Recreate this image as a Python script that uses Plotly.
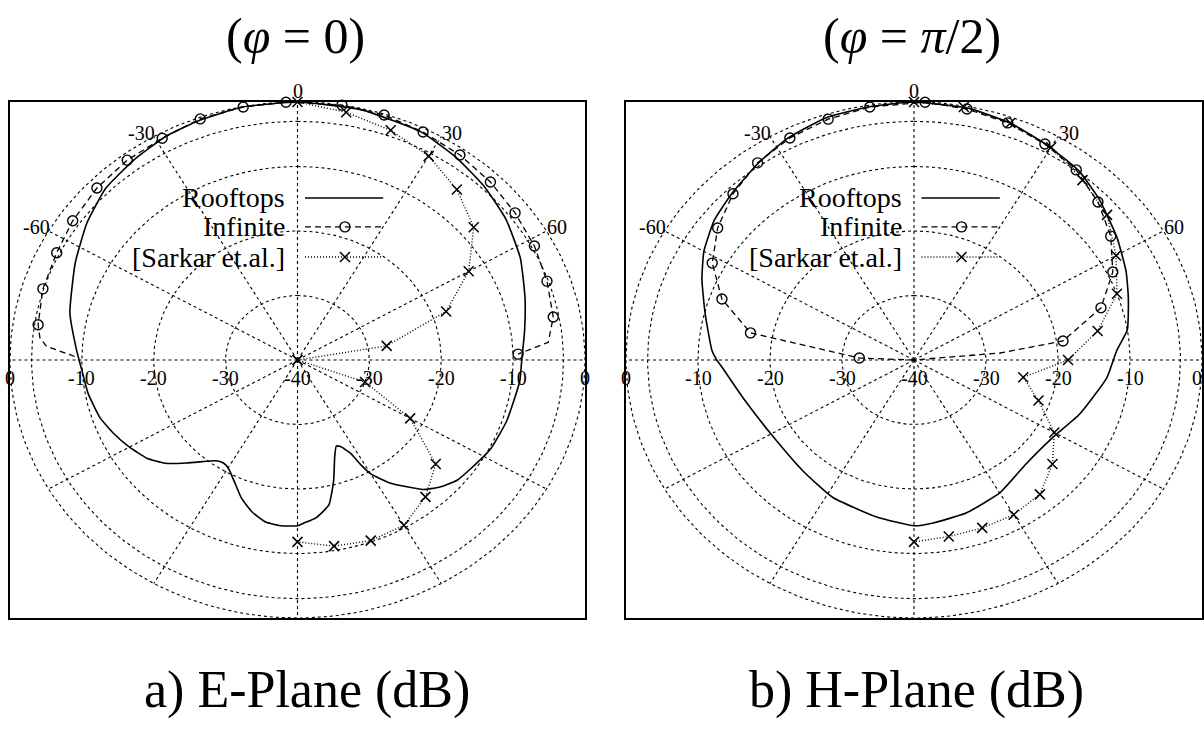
import numpy as np
import plotly.graph_objects as go

# ---------------------------------------------------------------
# Radiation patterns (angle in degrees from broadside, level in dB)
# ---------------------------------------------------------------

# a) E-plane, phi = 0
e_roof_theta = [-180, -175, -170, -165, -160, -155, -150, -147, -144, -141, -136, -131,
                -126, -120, -114, -108, -100, -93, -87, -77, -64, -54, -45, -36, -28,
                -20, -11, 0, 13, 26, 35, 44, 53, 63, 73, 82, 90, 96, 108, 117, 125,
                130, 135, 139, 142, 146, 150, 151.5, 153, 156, 158, 161, 165, 169,
                174, 178, 180]
e_roof_db = [-14.3, -14.2, -14.5, -15.6, -17.2, -19.2, -20.7, -21.0, -20.7, -19.8, -17.8,
             -15.6, -14.1, -13.0, -12.0, -11.1, -10.4, -9.95, -9.2, -7.5, -5.6, -3.8,
             -2.3, -1.5, -0.8, -0.4, -0.05, 0.0, -0.2, -0.7, -1.6, -2.6, -3.7, -5.2,
             -6.9, -8.1, -8.8, -8.9, -9.4, -9.8, -10.6, -11.0, -12.1, -13.4, -15.0,
             -17.0, -19.6, -21.5, -23.8, -25.3, -25.6, -24.1, -20.6, -17.1, -15.4,
             -14.7, -14.3]

e_inf_theta = [-81.4, -72.7, -63.6, -55.4, -46.3, -37.4, -28.7, -19.9, -10.9, -2.3,
               8.9, 17.6, 26.3, 35.4, 44.2, 53.0, 61.8, 70.6, 79.4, 88.3]
e_inf_db = [-3.5, -2.9, -2.6, -2.0, -1.4, -1.0, -0.8, -0.25, -0.05, 0.0,
            0.0, -0.15, -0.57, -1.0, -1.5, -2.1, -2.6, -3.2, -3.8, -9.3]
e_inf_end_theta = [-89.0, -86.5, -84.5, 85.5]
e_inf_end_db = [-9.0, -5.0, -4.0, -5.0]

e_sar_theta = [0, 10, 20, 30, 40, 50, 60, 70, 80, 90, 100, 110, 120, 130, 140, 150,
               160, 170, 180]
e_sar_db = [0.0, -1.0, -2.1, -3.5, -5.5, -8.0, -12.5, -18.0, -27.4, -40.0, -40.0,
            -30.0, -21.9, -14.9, -12.3, -10.4, -10.2, -10.7, -11.8]

# b) H-plane, phi = pi/2
h_roof_theta = [-180, -168, -152, -138, -121, -105, -92, -90, -87, -76, -67, -60, -52,
                -44, -35, -27, -18, -9, 0, 11, 20, 29, 38, 46, 56, 65, 72, 81, 87, 96,
                110, 122, 136, 150, 163, 174, 180]
h_roof_db = [-14.3, -15.1, -15.9, -16.9, -17.1, -15.7, -13.2, -12.6, -11.9, -10.1, -8.0,
             -6.3, -4.8, -3.8, -2.55, -1.4, -0.5, -0.25, 0.0, -0.24, -0.9, -1.9, -2.8,
             -4.2, -6.0, -7.5, -8.7, -10.0, -11.8, -13.1, -15.5, -17.3, -17.6, -16.2,
             -15.2, -14.6, -14.3]

h_inf_theta = [-87.7, -79.5, -70.5, -61.8, -53.1, -44.3, -35.4, -26.6, -17.7, -8.9,
               2.2, 10.7, 19.5, 28.5, 37.4, 46.2, 54.9, 63.7, 72.7, 81.9]
h_inf_db = [-32.4, -16.9, -11.7, -8.2, -5.9, -4.0, -2.5, -1.5, -0.8, -0.3,
            0.0, -0.4, -1.0, -1.9, -2.9, -4.6, -6.6, -9.2, -12.8, -19.1]
h_inf_end_theta = [-90.0, 84.8, 90.0]
h_inf_end_db = [-40.0, -28.0, -40.0]

h_sar_theta = [0, 10, 20, 30, 40, 50, 60, 70, 80, 90, 100, 110, 120, 130, 140, 150,
               160, 170, 180]
h_sar_db = [0.0, -0.18, -0.9, -1.9, -3.6, -5.0, -7.6, -10.0, -14.1, -18.6, -24.6,
            -21.6, -17.5, -14.9, -12.8, -12.3, -12.3, -12.2, -11.8]

# grid
ring_levels = [-30, -20, -10, -3, 0]
spoke_angles = list(range(0, 360, 30))
radial_labels = [0, -10, -20, -30, -40]
angle_labels = [-60, -30, 0, 30, 60]
legend_names = ["Rooftops", "Infinite", "[Sarkar et.al.]"]

panel_titles = ["(<i>φ</i> = 0)", "(<i>φ</i> = <i>π</i>/2)"]
panel_captions = ["a) E-Plane (dB)", "b) H-Plane (dB)"]

DB_MIN = -40.0
W, H = 1204, 733
SERIF = "Liberation Serif, Times New Roman, serif"


def to_xy(theta_deg, db):
    """Polar (angle from vertical, dB) -> normalised cartesian."""
    t = np.radians(np.asarray(theta_deg, dtype=float))
    r = (np.clip(np.asarray(db, dtype=float), DB_MIN, 0.0) - DB_MIN) / -DB_MIN
    return r * np.sin(t), r * np.cos(t)


def merged(theta_a, db_a, theta_b, db_b):
    th = np.concatenate([theta_a, theta_b])
    db = np.concatenate([db_a, db_b])
    order = np.argsort(th)
    return th[order], db[order]


fig = go.Figure()

panels = [
    dict(xa="x", ya="y", dom=[10 / W, 585 / W],
         roof=(e_roof_theta, e_roof_db),
         inf=(e_inf_theta, e_inf_db, e_inf_end_theta, e_inf_end_db),
         sar=(e_sar_theta, e_sar_db), tx=295, bx=307),
    dict(xa="x2", ya="y2", dom=[626 / W, 1202 / W],
         roof=(h_roof_theta, h_roof_db),
         inf=(h_inf_theta, h_inf_db, h_inf_end_theta, h_inf_end_db),
         sar=(h_sar_theta, h_sar_db), tx=912, bx=916),
]

grid_line = dict(color="black", width=1.1, dash="3px,3px")
roof_line = dict(color="black", width=1.6)
inf_line = dict(color="black", width=1.3, dash="6px,4px")
sar_line = dict(color="black", width=1.4, dash="1px,2px")
circle_marker = dict(symbol="circle-open", size=10, color="black",
                     line=dict(width=1.4, color="black"))
cross_marker = dict(symbol="x-thin-open", size=10, color="black",
                    line=dict(width=1.5, color="black"))

annotations = []
for i, p in enumerate(panels):
    xa, ya = p["xa"], p["ya"]

    # polar grid: rings and spokes
    gx, gy = [], []
    t = np.linspace(0, 360, 241)
    for lv in ring_levels:
        x, y = to_xy(t, np.full_like(t, lv))
        gx += list(x) + [None]
        gy += list(y) + [None]
    for a in spoke_angles:
        x, y = to_xy([a, a], [DB_MIN, 0])
        gx += list(x) + [None]
        gy += list(y) + [None]
    fig.add_trace(go.Scatter(x=gx, y=gy, mode="lines", line=grid_line,
                             xaxis=xa, yaxis=ya, hoverinfo="skip", showlegend=False))

    # Rooftops
    x, y = to_xy(*p["roof"])
    fig.add_trace(go.Scatter(x=x, y=y, mode="lines", line=roof_line,
                             line_shape="spline", line_smoothing=0.45,
                             xaxis=xa, yaxis=ya, showlegend=False))

    # Infinite
    th_m, db_m, th_e, db_e = p["inf"]
    th_all, db_all = merged(th_m, db_m, th_e, db_e)
    x, y = to_xy(th_all, db_all)
    fig.add_trace(go.Scatter(x=x, y=y, mode="lines", line=inf_line,
                             xaxis=xa, yaxis=ya, showlegend=False))
    x, y = to_xy(th_m, db_m)
    fig.add_trace(go.Scatter(x=x, y=y, mode="markers", marker=circle_marker,
                             cliponaxis=False, xaxis=xa, yaxis=ya, showlegend=False))

    # Sarkar et al.
    x, y = to_xy(*p["sar"])
    fig.add_trace(go.Scatter(x=x, y=y, mode="lines+markers", line=sar_line,
                             marker=cross_marker, cliponaxis=False,
                             xaxis=xa, yaxis=ya, showlegend=False))

    # in-plot key (label on the left, sample on the right)
    key_y = [0.628, 0.516, 0.399]
    x0, x1, xm = 0.026, 0.298, 0.165
    fig.add_trace(go.Scatter(x=[x0, x1], y=[key_y[0]] * 2, mode="lines", line=roof_line,
                             xaxis=xa, yaxis=ya, showlegend=False))
    fig.add_trace(go.Scatter(x=[x0, x1], y=[key_y[1]] * 2, mode="lines", line=inf_line,
                             xaxis=xa, yaxis=ya, showlegend=False))
    fig.add_trace(go.Scatter(x=[xm], y=[key_y[1]], mode="markers", marker=circle_marker,
                             xaxis=xa, yaxis=ya, showlegend=False))
    fig.add_trace(go.Scatter(x=[x0, x1], y=[key_y[2]] * 2, mode="lines", line=sar_line,
                             xaxis=xa, yaxis=ya, showlegend=False))
    fig.add_trace(go.Scatter(x=[xm], y=[key_y[2]], mode="markers", marker=cross_marker,
                             xaxis=xa, yaxis=ya, showlegend=False))
    for name, ky in zip(legend_names, key_y):
        annotations.append(dict(x=-0.035, y=ky, xref=xa, yref=ya, text=name,
                                showarrow=False, xanchor="right", yanchor="middle",
                                font=dict(family=SERIF, size=28, color="black")))

    # radial tick labels along the horizontal axis
    tick_font = dict(family=SERIF, size=20, color="black")
    for lv in radial_labels:
        r = (lv - DB_MIN) / -DB_MIN
        annotations.append(dict(x=-r, y=0, xref=xa, yref=ya, text=str(lv),
                                showarrow=False, xanchor="center", yanchor="middle",
                                yshift=-18, font=tick_font))
        if lv != DB_MIN:
            edge = (i == 1 and lv == 0)
            annotations.append(dict(x=r, y=0, xref=xa, yref=ya, text=str(lv),
                                    showarrow=False,
                                    xanchor="right" if edge else "center",
                                    xshift=2 if edge else 0,
                                    yanchor="middle", yshift=-18, font=tick_font))

    # angular tick labels
    for a in angle_labels:
        ax, ay = to_xy([a], [0])
        if a == 0:
            anch, xs, ys, yan = "center", 0, -2, "bottom"
        elif a > 0:
            anch, xs, ys, yan = "left", -1, 4, "middle"
        else:
            anch, xs, ys, yan = "right", 3, 4, "middle"
        annotations.append(dict(x=float(ax[0]), y=float(ay[0]), xref=xa, yref=ya,
                                text=str(a), showarrow=False, xanchor=anch,
                                yanchor=yan, xshift=xs, yshift=ys, font=tick_font))

    # panel title and caption
    annotations.append(dict(x=p["tx"] / W, y=1 - 36 / H, xref="paper", yref="paper",
                            text=panel_titles[i], showarrow=False, xanchor="center",
                            yanchor="middle",
                            font=dict(family=SERIF, size=50, color="black")))
    annotations.append(dict(x=p["bx"] / W, y=1 - 690 / H, xref="paper", yref="paper",
                            text=panel_captions[i], showarrow=False, xanchor="center",
                            yanchor="middle",
                            font=dict(family=SERIF, size=52, color="black")))

axis_common = dict(range=[-1, 1], showgrid=False, zeroline=False, showticklabels=False,
                   ticks="", showline=True, mirror=True, linecolor="black", linewidth=2)
ydom = [1 - 618 / H, 1 - 102 / H]

fig.update_layout(
    width=W, height=H,
    margin=dict(l=0, r=0, t=0, b=0),
    paper_bgcolor="white", plot_bgcolor="white",
    showlegend=False,
    xaxis=dict(domain=panels[0]["dom"], anchor="y", **axis_common),
    yaxis=dict(domain=ydom, anchor="x", **axis_common),
    xaxis2=dict(domain=panels[1]["dom"], anchor="y2", **axis_common),
    yaxis2=dict(domain=ydom, anchor="x2", **axis_common),
    annotations=annotations,
)

fig.write_html("out.html")
